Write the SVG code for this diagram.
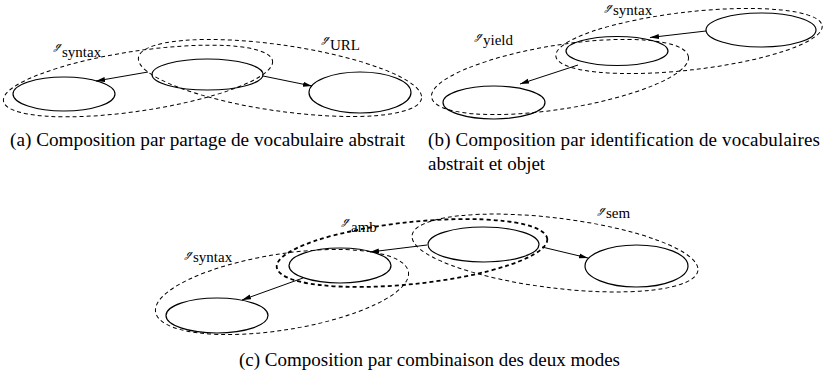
<svg xmlns="http://www.w3.org/2000/svg" width="826" height="373" viewBox="0 0 826 373">
<style>
.node{fill:none;stroke:#000;stroke-width:1.2}
.grp{fill:none;stroke:#000;stroke-width:1;stroke-dasharray:4 3}
.bold{stroke-width:1.8}
.edge{stroke:#000;stroke-width:1;fill:none;marker-end:url(#ah)}
.lbl{font-family:"Liberation Serif",serif;font-size:15px;fill:#000}
.g{font-family:"DejaVu Serif",serif;font-size:10px;font-style:italic}
.cap{font-family:"Liberation Serif",serif;font-size:19px;fill:#000}
</style>
<defs>
<marker id="ah" markerUnits="userSpaceOnUse" markerWidth="10" markerHeight="6" refX="9" refY="3" orient="auto">
<path d="M0,0.5 L9,3 L0,5.5 Z" fill="#000"/>
</marker>
</defs>
<g id="groups">
<ellipse class="grp" cx="138" cy="81" rx="136" ry="30" transform="rotate(-8.5 138 81)"/>
<ellipse class="grp" cx="280" cy="78" rx="143" ry="33" transform="rotate(8.2 280 78)"/>
<ellipse class="grp" cx="560" cy="77" rx="130" ry="32" transform="rotate(-9 560 77)"/>
<ellipse class="grp" cx="689" cy="41" rx="134" ry="29" transform="rotate(-6.5 689 41)"/>
<ellipse class="grp" cx="282" cy="292" rx="128" ry="38" transform="rotate(-9 282 292)"/>
<ellipse class="grp bold" cx="412" cy="253" rx="136" ry="31" transform="rotate(-6 412 253)"/>
<ellipse class="grp" cx="555" cy="253" rx="144" ry="35" transform="rotate(7 555 253)"/>
</g>
<g id="a-left"><ellipse class="node" cx="64" cy="94" rx="51" ry="17"/></g>
<g id="a-mid"><ellipse class="node" cx="207.5" cy="74.5" rx="55.5" ry="15.5"/></g>
<g id="a-right"><ellipse class="node" cx="360" cy="92.5" rx="51" ry="20.5"/></g>
<g id="b-mid"><ellipse class="node" cx="617" cy="51" rx="51" ry="14.5"/></g>
<g id="b-top"><ellipse class="node" cx="761" cy="30" rx="55" ry="17"/></g>
<g id="b-bottom"><ellipse class="node" cx="494" cy="102.5" rx="51" ry="16.5"/></g>
<g id="c-bottom"><ellipse class="node" cx="217" cy="315.5" rx="51" ry="17.5"/></g>
<g id="c-midleft"><ellipse class="node" cx="340" cy="265.5" rx="51" ry="17.5"/></g>
<g id="c-midright"><ellipse class="node" cx="483.5" cy="244.5" rx="55.5" ry="17.5"/></g>
<g id="c-right"><ellipse class="node" cx="636.5" cy="266" rx="51.5" ry="21"/></g>
<g id="connectors">
<line class="edge" x1="148" y1="72" x2="96" y2="81"/>
<line class="edge" x1="263" y1="76" x2="312" y2="86"/>
<line class="edge" x1="706" y1="31" x2="650" y2="37.5"/>
<line class="edge" x1="578" y1="65" x2="520" y2="84"/>
<line class="edge" x1="427" y1="245" x2="370" y2="252"/>
<line class="edge" x1="542" y1="247" x2="588" y2="258"/>
<line class="edge" x1="303" y1="278" x2="242" y2="300"/>
</g>
<g id="labels">
<text class="lbl"><tspan class="g" x="55" y="48">ℊ</tspan><tspan x="62" y="57">syntax</tspan></text>
<text class="lbl"><tspan class="g" x="323" y="41">ℊ</tspan><tspan x="330" y="50">URL</tspan></text>
<text class="lbl"><tspan class="g" x="606" y="9">ℊ</tspan><tspan x="613" y="15">syntax</tspan></text>
<text class="lbl"><tspan class="g" x="476" y="38">ℊ</tspan><tspan x="483" y="45">yield</tspan></text>
<text class="lbl"><tspan class="g" x="186" y="256">ℊ</tspan><tspan x="193" y="262">syntax</tspan></text>
<text class="lbl"><tspan class="g" x="343" y="223">ℊ</tspan><tspan x="351" y="232">amb</tspan></text>
<text class="lbl"><tspan class="g" x="599" y="212">ℊ</tspan><tspan x="606" y="218">sem</tspan></text>
</g>
<g id="captions">
<text class="cap" x="10" y="146" textLength="395" lengthAdjust="spacingAndGlyphs">(a) Composition par partage de vocabulaire abstrait</text>
<text class="cap" x="428" y="146" textLength="392" lengthAdjust="spacing">(b) Composition par identification de vocabulaires</text>
<text class="cap" x="428" y="170">abstrait et objet</text>
<text class="cap" x="239" y="366">(c) Composition par combinaison des deux modes</text>
</g>
</svg>
